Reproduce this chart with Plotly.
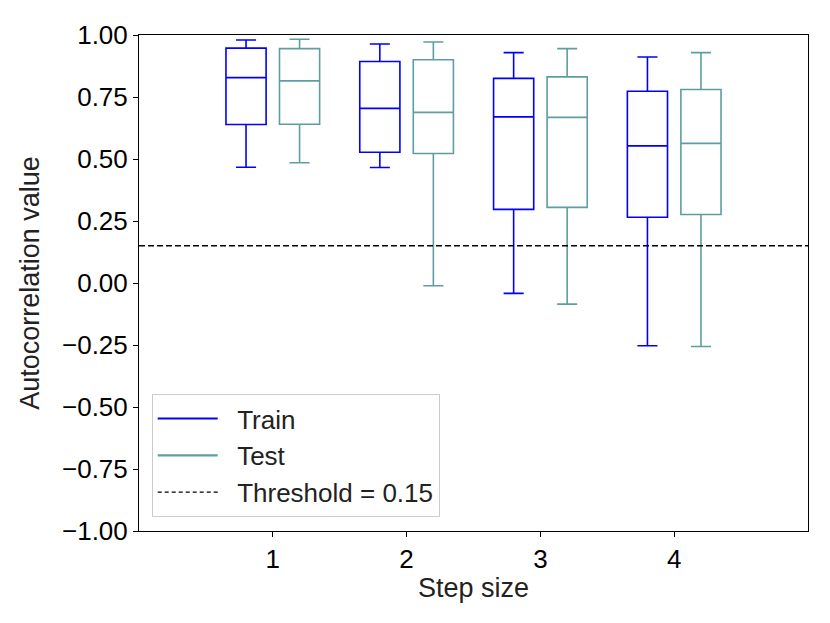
import plotly.graph_objects as go

steps = [1, 2, 3, 4]
train_lower = [0.467, 0.466, -0.042, -0.253]
train_q1 = [0.639, 0.527, 0.297, 0.265]
train_median = [0.828, 0.704, 0.670, 0.553]
train_q3 = [0.947, 0.893, 0.825, 0.773]
train_upper = [0.980, 0.964, 0.929, 0.911]

test_lower = [0.485, -0.011, -0.085, -0.256]
test_q1 = [0.640, 0.522, 0.305, 0.276]
test_median = [0.815, 0.688, 0.668, 0.563]
test_q3 = [0.945, 0.900, 0.831, 0.780]
test_upper = [0.983, 0.972, 0.945, 0.929]

threshold = 0.15

TRAIN_COLOR = "#0000ff"
TEST_COLOR = "#5f9ea0"
PAD = "\u00a0\u00a0"  # push legend text a bit right of the line icon

fig = go.Figure()

for name, color, offset, lo, q1, med, q3, up in [
    ("Train", TRAIN_COLOR, -0.2, train_lower, train_q1, train_median, train_q3, train_upper),
    ("Test", TEST_COLOR, 0.2, test_lower, test_q1, test_median, test_q3, test_upper),
]:
    fig.add_trace(go.Box(
        x=[s + offset for s in steps],
        q1=q1, median=med, q3=q3, lowerfence=lo, upperfence=up,
        width=0.3, whiskerwidth=0.5,
        line=dict(color=color, width=1.6),
        fillcolor="rgba(0,0,0,0)",
        boxpoints=False, showlegend=False, hoverinfo="skip",
    ))
    # legend entry drawn as a plain line like matplotlib
    fig.add_trace(go.Scatter(
        x=[None], y=[None], mode="lines", name=PAD + name,
        line=dict(color=color, width=2.2),
    ))

fig.add_trace(go.Scatter(
    x=[None], y=[None], mode="lines", name=PAD + "Threshold = 0.15",
    line=dict(color="black", width=1.4, dash="4px,3px"),
))
fig.add_hline(y=threshold, line=dict(color="black", width=1.4, dash="6px,3px"))

axis_common = dict(
    showline=True, linecolor="black", linewidth=1, mirror=True,
    ticks="outside", ticklen=5, tickcolor="black", showgrid=False,
    zeroline=False, tickfont=dict(size=26, color="black"),
)

# the page body has an 8px margin, so the figure is shrunk by that much
fig.update_layout(
    width=822, height=615,
    margin=dict(l=131, r=22, t=22, b=92),
    plot_bgcolor="white", paper_bgcolor="white",
    font=dict(family="Liberation Sans, Arial, sans-serif", color="#222222"),
    xaxis=dict(range=[0, 5], tickmode="array", tickvals=steps,
               title=dict(text="Step size", font=dict(size=27), standoff=4),
               **axis_common),
    yaxis=dict(range=[-1, 1], tickmode="array",
               tickvals=[-1, -0.75, -0.5, -0.25, 0, 0.25, 0.5, 0.75, 1],
               ticktext=["\u22121.00", "\u22120.75", "\u22120.50", "\u22120.25",
                         "0.00", "0.25", "0.50", "0.75", "1.00"],
               title=dict(text="Autocorrelation value", font=dict(size=27), standoff=14),
               **axis_common),
    legend=dict(x=0.019, y=0.028, xanchor="left", yanchor="bottom",
                bgcolor="rgba(255,255,255,0.8)", bordercolor="#cccccc", borderwidth=1,
                font=dict(size=26), tracegroupgap=0, itemwidth=60),
)

fig.write_html("out.html")
